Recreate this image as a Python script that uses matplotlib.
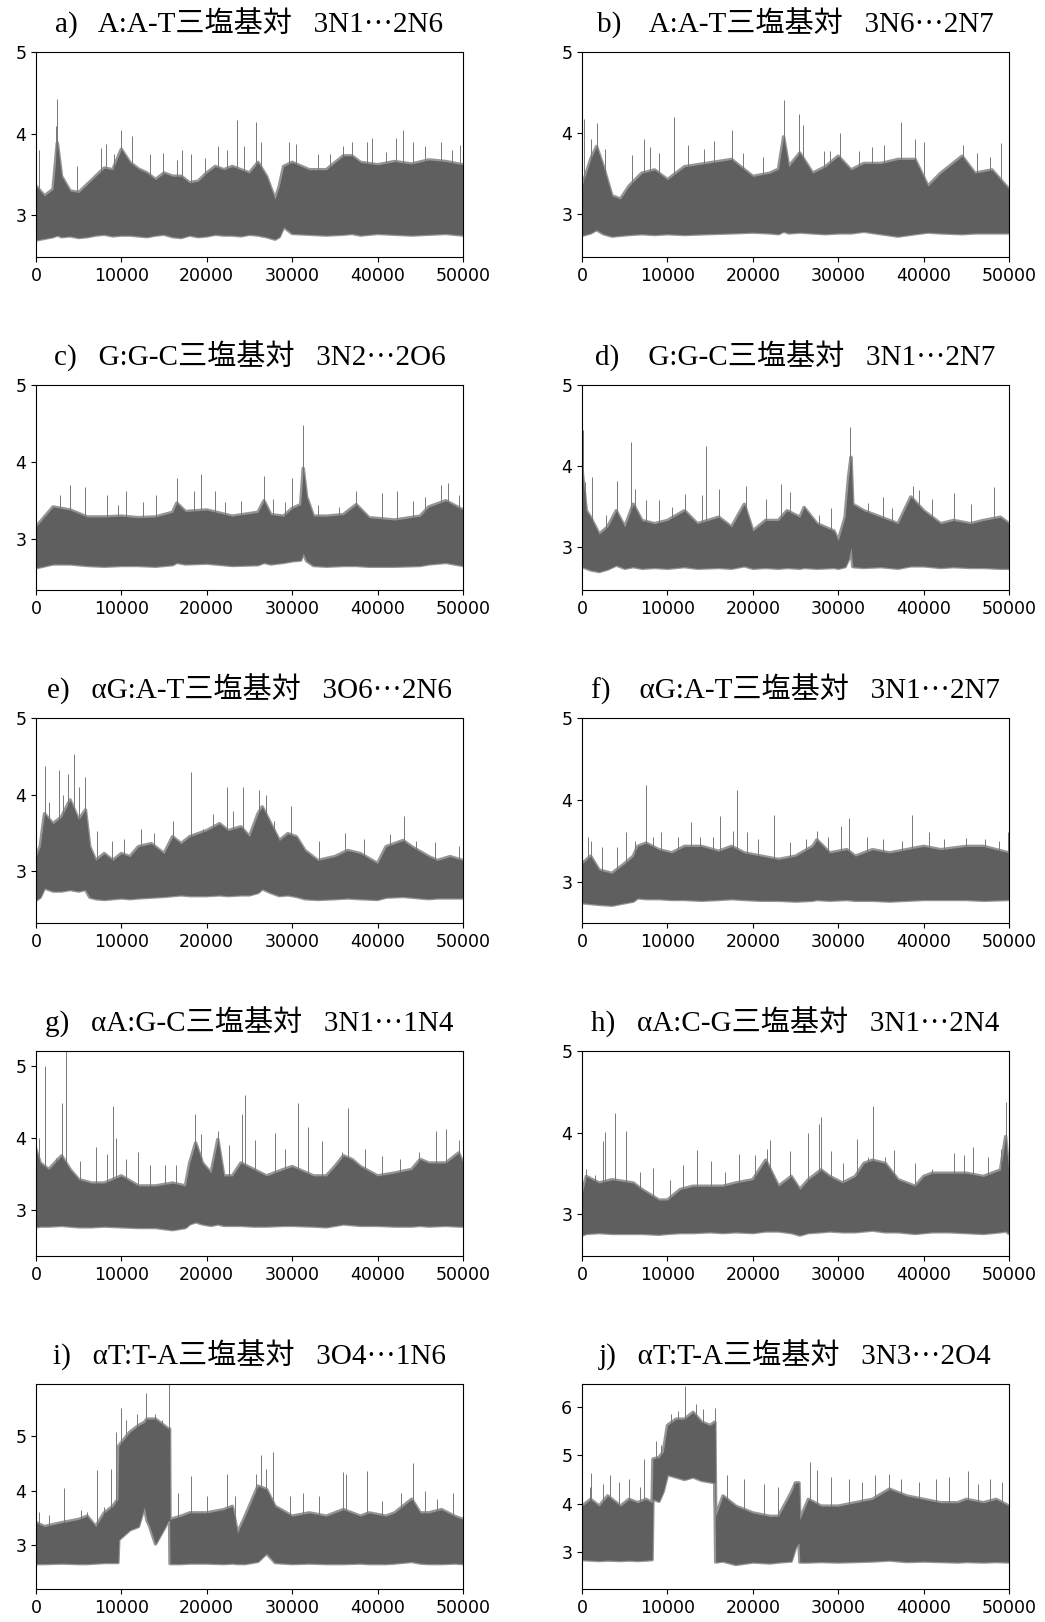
import numpy as np
import matplotlib

matplotlib.use("Agg")
import matplotlib.pyplot as plt

# --- datos: envolvente (bajo/alto) y picos sueltos por panel ---

a_x = [0, 1000, 2000, 2500, 3000, 4000, 5000, 6000, 7000, 8000, 9000, 10000, 11000, 12000, 13000,
       14000, 15000, 16000, 17000, 18000, 19000, 20000, 21000, 22000, 23000, 24000, 25000, 26000,
       27000, 28000, 28500, 29000, 30000, 32000, 34000, 36000, 37000, 38000, 40000, 42000, 44000,
       46000, 48000, 50000]
a_hi = [3.36, 3.24, 3.32, 3.89, 3.48, 3.30, 3.28, 3.38, 3.48, 3.58, 3.56, 3.81, 3.65, 3.57, 3.52,
        3.44, 3.52, 3.48, 3.48, 3.40, 3.42, 3.52, 3.60, 3.56, 3.60, 3.56, 3.52, 3.65, 3.48, 3.20,
        3.36, 3.60, 3.65, 3.56, 3.56, 3.73, 3.73, 3.65, 3.62, 3.66, 3.63, 3.68, 3.66, 3.62]
a_lo = [2.70, 2.72, 2.74, 2.76, 2.74, 2.75, 2.73, 2.74, 2.76, 2.77, 2.75, 2.76, 2.76, 2.75, 2.74,
        2.76, 2.77, 2.74, 2.73, 2.76, 2.74, 2.75, 2.77, 2.76, 2.76, 2.75, 2.77, 2.76, 2.74, 2.71,
        2.74, 2.86, 2.78, 2.77, 2.76, 2.77, 2.78, 2.76, 2.78, 2.77, 2.76, 2.77, 2.78, 2.76]
a_sx = [300, 2300, 2500, 4800, 7600, 8200, 9100, 10000, 11300, 13300, 14900, 16500, 17100, 18100,
        19800, 21300, 22400, 23600, 24400, 25800, 26300, 29600, 30500, 33000, 34400, 35900, 37000,
        38800, 39400, 41000, 42200, 43000, 44100, 45500, 47400, 48700, 49700]
a_sy = [3.80, 4.10, 4.43, 3.60, 3.82, 3.88, 3.75, 4.05, 3.97, 3.75, 3.77, 3.68, 3.80, 3.75, 3.70,
        3.85, 3.80, 4.17, 3.85, 4.14, 3.90, 3.90, 3.88, 3.75, 3.75, 3.85, 3.90, 3.90, 3.95, 3.78,
        3.95, 4.05, 3.90, 3.85, 3.90, 3.80, 3.86]

b_x = [0, 1000, 1700, 2500, 3500, 4500, 5500, 7000, 8500, 10000, 12000, 14500, 17500, 20000, 22000,
       23000, 23600, 24200, 25500, 27000, 28500, 30000, 31500, 33000, 35000, 37000, 39000, 40500,
       42000, 44500, 46000, 48000, 50000]
b_hi = [3.34, 3.67, 3.83, 3.58, 3.22, 3.18, 3.34, 3.50, 3.54, 3.42, 3.58, 3.62, 3.67, 3.46, 3.50,
        3.55, 3.95, 3.58, 3.75, 3.50, 3.58, 3.71, 3.54, 3.62, 3.62, 3.67, 3.67, 3.34, 3.50, 3.71,
        3.50, 3.54, 3.30]
b_lo = [2.73, 2.76, 2.80, 2.75, 2.72, 2.73, 2.74, 2.75, 2.74, 2.75, 2.74, 2.75, 2.76, 2.77, 2.76,
        2.75, 2.78, 2.76, 2.77, 2.76, 2.75, 2.76, 2.76, 2.78, 2.75, 2.72, 2.75, 2.77, 2.76, 2.75,
        2.76, 2.76, 2.76]
b_sx = [0, 200, 1000, 1700, 2700, 5900, 7200, 7900, 9000, 10800, 12400, 14300, 15400, 17600, 18900,
        21200, 23600, 25400, 25900, 28300, 29000, 30200, 32400, 34000, 35300, 37400, 39000, 40000,
        44600, 46200, 47800, 49000]
b_sy = [3.87, 4.17, 3.92, 4.12, 3.80, 3.72, 3.92, 3.82, 3.75, 4.20, 3.85, 3.80, 3.90, 4.03, 3.75,
        3.70, 4.41, 4.23, 4.10, 3.78, 3.78, 4.00, 3.78, 3.82, 3.85, 4.13, 3.92, 3.88, 3.85, 3.75,
        3.70, 3.87]

c_x = [0, 2000, 4000, 6000, 8000, 10000, 12000, 14000, 16000, 16500, 17500, 20000, 23000, 26000,
       26700, 27500, 29000, 30000, 31000, 31300, 31700, 32500, 34000, 36000, 37500, 39000, 42000,
       45000, 46000, 48000, 50000]
c_hi = [3.16, 3.42, 3.38, 3.29, 3.29, 3.30, 3.28, 3.29, 3.35, 3.47, 3.36, 3.38, 3.30, 3.35, 3.50,
        3.32, 3.30, 3.40, 3.45, 3.92, 3.55, 3.30, 3.30, 3.32, 3.45, 3.28, 3.25, 3.30, 3.42, 3.50, 3.38]
c_lo = [2.63, 2.68, 2.68, 2.66, 2.65, 2.66, 2.66, 2.65, 2.67, 2.70, 2.68, 2.69, 2.66, 2.67, 2.70,
        2.68, 2.70, 2.72, 2.73, 2.82, 2.72, 2.66, 2.65, 2.66, 2.66, 2.65, 2.65, 2.66, 2.68, 2.70, 2.66]
c_sx = [1000, 2800, 4000, 5800, 8300, 9600, 10500, 12500, 14000, 16500, 18500, 19300, 21000, 22100,
        24000, 26700, 27800, 29200, 30000, 31300, 33000, 35500, 37500, 40500, 42300, 44100, 45500,
        47400, 48300, 49500]
c_sy = [3.30, 3.58, 3.71, 3.68, 3.58, 3.45, 3.62, 3.48, 3.58, 3.80, 3.62, 3.85, 3.63, 3.48, 3.50,
        3.82, 3.52, 3.48, 3.80, 4.48, 3.45, 3.42, 3.62, 3.60, 3.62, 3.50, 3.55, 3.70, 3.73, 3.58]

d_x = [0, 500, 1000, 2000, 3000, 4000, 5000, 6000, 7000, 8500, 10000, 12000, 13500, 16000, 17500,
       19000, 20000, 21500, 23000, 24000, 25500, 26000, 27500, 29500, 30000, 30800, 31200, 31500,
       31700, 33000, 35000, 37000, 38500, 40000, 42000, 43500, 45500, 47000, 49000, 50000]
d_hi = [3.95, 3.45, 3.37, 3.16, 3.25, 3.45, 3.25, 3.53, 3.33, 3.29, 3.33, 3.45, 3.29, 3.37, 3.25,
        3.53, 3.20, 3.33, 3.33, 3.45, 3.37, 3.49, 3.29, 3.20, 3.08, 3.37, 3.86, 4.11, 3.53, 3.45,
        3.37, 3.29, 3.62, 3.45, 3.29, 3.33, 3.29, 3.33, 3.37, 3.29]
d_lo = [2.76, 2.74, 2.72, 2.70, 2.73, 2.78, 2.74, 2.76, 2.74, 2.75, 2.74, 2.76, 2.74, 2.75, 2.74,
        2.77, 2.74, 2.75, 2.74, 2.75, 2.74, 2.75, 2.74, 2.75, 2.74, 2.76, 2.85, 3.00, 2.76, 2.75,
        2.76, 2.74, 2.77, 2.77, 2.75, 2.76, 2.75, 2.75, 2.74, 2.74]
d_sx = [100, 300, 1200, 2800, 4100, 5700, 6200, 7500, 9000, 10500, 12000, 14000, 14500, 16000,
        19200, 21500, 23300, 24300, 26000, 27800, 29200, 31400, 33500, 35200, 36300, 38700, 39500,
        41000, 43500, 45500, 48200]
d_sy = [4.45, 3.80, 3.86, 3.40, 3.82, 4.30, 3.72, 3.58, 3.58, 3.50, 3.66, 3.65, 4.25, 3.72, 3.75,
        3.60, 3.78, 3.68, 3.50, 3.40, 3.48, 4.48, 3.55, 3.62, 3.48, 3.75, 3.70, 3.60, 3.67, 3.53, 3.74]

e_x = [0, 500, 1000, 2000, 3000, 4000, 5000, 5800, 6300, 7000, 8000, 9000, 10000, 11000, 12000,
       13500, 15000, 16000, 17000, 18000, 19000, 20000, 21500, 22500, 24000, 25000, 26000, 26500,
       27500, 28500, 29500, 30500, 31500, 33000, 35000, 36500, 38000, 40000, 41000, 43000, 44000,
       46000, 47000, 48500, 50000]
e_hi = [3.19, 3.32, 3.75, 3.62, 3.71, 3.93, 3.67, 3.80, 3.32, 3.14, 3.23, 3.14, 3.23, 3.19, 3.32,
        3.36, 3.23, 3.45, 3.36, 3.45, 3.49, 3.53, 3.62, 3.53, 3.58, 3.45, 3.75, 3.84, 3.62, 3.40,
        3.49, 3.45, 3.27, 3.14, 3.19, 3.27, 3.23, 3.10, 3.32, 3.40, 3.32, 3.19, 3.14, 3.19, 3.14]
e_lo = [2.62, 2.66, 2.78, 2.74, 2.74, 2.76, 2.74, 2.76, 2.66, 2.64, 2.63, 2.64, 2.65, 2.64, 2.65,
        2.66, 2.67, 2.68, 2.69, 2.68, 2.68, 2.68, 2.69, 2.68, 2.69, 2.69, 2.72, 2.77, 2.72, 2.68,
        2.69, 2.67, 2.64, 2.63, 2.64, 2.65, 2.64, 2.63, 2.66, 2.67, 2.66, 2.64, 2.65, 2.65, 2.65]
e_sx = [1100, 1500, 2700, 3200, 3700, 4500, 5000, 5800, 7200, 8900, 10300, 12300, 13800, 16100,
        18100, 19600, 20700, 22400, 23100, 24200, 26100, 26900, 27900, 29900, 33100, 36200, 38400,
        41500, 43100, 44500, 46700, 49500]
e_sy = [4.38, 3.90, 4.32, 4.00, 4.27, 4.53, 4.10, 4.23, 3.52, 3.40, 3.42, 3.55, 3.50, 3.65, 4.30,
        3.55, 3.75, 4.10, 3.78, 4.10, 4.06, 4.00, 3.65, 3.85, 3.40, 3.50, 3.42, 3.48, 3.72, 3.40,
        3.38, 3.33]

f_x = [0, 1000, 2000, 3500, 5000, 6000, 6500, 7500, 9000, 10500, 12000, 14000, 16000, 17500, 19000,
       21000, 23000, 25000, 27000, 27500, 29000, 31000, 32000, 34000, 36000, 38000, 40000, 42000,
       45000, 47000, 50000]
f_hi = [3.22, 3.31, 3.14, 3.10, 3.22, 3.31, 3.43, 3.47, 3.39, 3.35, 3.43, 3.43, 3.37, 3.43, 3.35,
        3.31, 3.27, 3.31, 3.43, 3.51, 3.35, 3.39, 3.31, 3.39, 3.35, 3.39, 3.43, 3.39, 3.43, 3.43, 3.35]
f_lo = [2.74, 2.73, 2.72, 2.71, 2.74, 2.76, 2.80, 2.79, 2.79, 2.78, 2.78, 2.77, 2.78, 2.79, 2.78,
        2.77, 2.77, 2.76, 2.77, 2.78, 2.77, 2.78, 2.77, 2.77, 2.76, 2.77, 2.78, 2.78, 2.78, 2.77, 2.78]
f_sx = [700, 1100, 2300, 4100, 5200, 6200, 7500, 8300, 9300, 11200, 12700, 13800, 15300, 16100,
        17700, 18100, 19300, 20600, 22500, 24300, 26200, 27500, 28800, 30300, 31200, 33400, 35200,
        37500, 38600, 40600, 42400, 45000, 47200, 48800, 49900]
f_sy = [3.55, 3.50, 3.42, 3.42, 3.61, 3.50, 4.18, 3.55, 3.60, 3.55, 3.73, 3.55, 3.55, 3.80, 3.62,
        4.12, 3.60, 3.52, 3.82, 3.48, 3.52, 3.62, 3.55, 3.68, 3.78, 3.55, 3.52, 3.50, 3.82, 3.60,
        3.52, 3.53, 3.52, 3.50, 3.60]

g_x = [0, 500, 1500, 3000, 4000, 5000, 6500, 8000, 10000, 12000, 14000, 16000, 17500, 18000, 18700,
       19500, 20500, 21300, 22000, 23000, 24000, 25500, 27000, 29000, 30000, 32500, 34000, 35000,
       36000, 37000, 38000, 40000, 42000, 44000, 45000, 46000, 48000, 49500, 50000]
g_hi = [3.84, 3.65, 3.56, 3.75, 3.56, 3.42, 3.37, 3.37, 3.47, 3.33, 3.33, 3.37, 3.33, 3.65, 3.93,
        3.65, 3.51, 3.98, 3.47, 3.47, 3.65, 3.56, 3.47, 3.56, 3.60, 3.47, 3.47, 3.60, 3.75, 3.70,
        3.60, 3.47, 3.51, 3.56, 3.70, 3.65, 3.65, 3.79, 3.65]
g_lo = [2.76, 2.77, 2.77, 2.78, 2.77, 2.76, 2.76, 2.77, 2.76, 2.75, 2.75, 2.72, 2.75, 2.80, 2.83,
        2.80, 2.78, 2.80, 2.78, 2.78, 2.78, 2.77, 2.77, 2.78, 2.78, 2.77, 2.76, 2.78, 2.80, 2.79,
        2.78, 2.78, 2.77, 2.77, 2.78, 2.77, 2.78, 2.77, 2.77]
g_sx = [300, 1100, 2300, 3000, 3540, 5200, 7000, 8300, 9000, 9400, 10500, 11900, 13300, 15100,
        16400, 18600, 19300, 21300, 22600, 24100, 24500, 25600, 28000, 29200, 30700, 31800, 33500,
        35800, 36500, 38500, 40500, 42600, 44900, 46800, 48000, 49500]
g_sy = [4.00, 5.00, 3.72, 4.48, 5.30, 3.68, 3.88, 3.78, 4.45, 4.00, 3.70, 3.80, 3.62, 3.62, 3.62,
        4.33, 4.05, 4.10, 3.90, 4.33, 4.60, 3.97, 4.07, 3.85, 4.48, 4.15, 3.95, 3.80, 4.42, 3.85,
        3.75, 3.70, 3.80, 4.10, 4.12, 3.97]

h_x = [0, 500, 2000, 3500, 6000, 7000, 9000, 10000, 11500, 13000, 15000, 16500, 18000, 20000, 21500,
       23000, 24500, 25500, 26500, 28000, 29000, 30500, 32000, 33000, 34000, 35500, 37000, 39000,
       40000, 41000, 43000, 45000, 47000, 49000, 49600, 50000]
h_hi = [3.25, 3.46, 3.38, 3.42, 3.38, 3.30, 3.17, 3.17, 3.30, 3.34, 3.34, 3.34, 3.38, 3.42, 3.66,
        3.34, 3.46, 3.30, 3.42, 3.54, 3.46, 3.38, 3.46, 3.62, 3.66, 3.62, 3.42, 3.34, 3.46, 3.50,
        3.50, 3.50, 3.46, 3.54, 3.95, 3.46]
h_lo = [2.74, 2.76, 2.77, 2.76, 2.76, 2.76, 2.75, 2.76, 2.77, 2.77, 2.78, 2.77, 2.78, 2.77, 2.79,
        2.79, 2.77, 2.74, 2.77, 2.78, 2.79, 2.78, 2.78, 2.79, 2.80, 2.78, 2.78, 2.76, 2.77, 2.78,
        2.78, 2.77, 2.76, 2.78, 2.79, 2.76]
h_sx = [500, 1500, 2500, 2700, 3900, 5100, 6800, 8300, 10300, 11800, 13500, 15100, 16700, 18400,
        20300, 21700, 22000, 24400, 26400, 27700, 28000, 29200, 30500, 32200, 33500, 34100, 35500,
        36500, 39000, 41000, 43500, 44700, 45800, 47500, 49000, 49600]
h_sy = [3.55, 3.48, 3.90, 4.01, 4.24, 4.02, 3.52, 3.56, 3.42, 3.60, 3.78, 3.65, 3.52, 3.74, 3.72,
        3.80, 3.91, 3.77, 4.00, 4.10, 4.19, 3.77, 3.62, 3.92, 3.70, 4.33, 3.70, 3.78, 3.62, 3.55,
        3.75, 3.72, 3.82, 3.70, 3.80, 4.38]

i_x = [0, 1000, 3000, 5000, 6000, 7000, 8000, 9000, 9600, 9700, 11000, 12000, 12700, 13000, 13300,
       14000, 15000, 15500, 15650, 15700, 17000, 18000, 20000, 22000, 23000, 23600, 24500, 26000,
       27000, 28000, 30000, 32000, 34000, 36000, 38000, 39000, 41000, 42000, 44000, 45000, 46000,
       47500, 49000, 50000]
i_hi = [3.41, 3.34, 3.41, 3.47, 3.53, 3.34, 3.59, 3.71, 3.84, 4.82, 5.07, 5.19, 5.25, 5.31, 5.31,
        5.31, 5.19, 5.13, 5.13, 3.47, 3.53, 3.59, 3.59, 3.65, 3.71, 3.22, 3.53, 4.08, 4.02, 3.71,
        3.53, 3.59, 3.53, 3.65, 3.53, 3.59, 3.53, 3.59, 3.84, 3.59, 3.59, 3.65, 3.53, 3.47]
i_lo = [2.66, 2.66, 2.67, 2.66, 2.66, 2.67, 2.68, 2.68, 2.68, 3.10, 3.28, 3.34, 3.70, 3.45, 3.35,
        3.02, 3.30, 3.45, 3.45, 2.66, 2.66, 2.67, 2.67, 2.66, 2.67, 2.66, 2.66, 2.70, 2.85, 2.68,
        2.66, 2.67, 2.66, 2.66, 2.67, 2.66, 2.66, 2.67, 2.70, 2.67, 2.66, 2.66, 2.67, 2.66]
i_sx = [400, 1500, 3300, 5300, 6000, 7200, 8000, 8800, 9400, 10000, 10600, 11800, 12900, 13900,
        14800, 15600, 16600, 18200, 20000, 22400, 23300, 25800, 26300, 26900, 27800, 29700, 31300,
        33200, 35900, 36300, 38800, 40500, 42700, 44100, 45500, 47000, 48800]
i_sy = [3.60, 3.55, 4.05, 3.65, 3.60, 4.38, 3.70, 4.40, 5.08, 5.51, 5.30, 5.40, 5.79, 5.40, 5.30,
        5.95, 3.95, 4.27, 3.90, 4.30, 3.90, 4.30, 4.65, 4.40, 4.70, 3.90, 3.95, 3.90, 4.34, 4.30,
        4.35, 3.80, 3.95, 4.50, 4.00, 3.85, 3.95]

j_x = [0, 1000, 2000, 3000, 4500, 5500, 6500, 7500, 8200, 8300, 9000, 9500, 10000, 11000, 12000,
       13000, 14000, 15000, 15550, 15650, 16500, 18000, 20000, 22000, 23000, 24500, 25000, 25400,
       25500, 26500, 28000, 30000, 32000, 34000, 36000, 38000, 40000, 42000, 44000, 45000, 47000,
       48500, 50000]
j_hi = [3.95, 4.09, 3.95, 4.16, 3.95, 4.09, 4.02, 4.09, 4.02, 4.92, 4.95, 5.06, 5.61, 5.74, 5.74,
        5.88, 5.68, 5.61, 5.68, 3.74, 4.16, 3.95, 3.81, 3.74, 3.74, 4.23, 4.43, 4.43, 3.67, 4.09,
        3.95, 3.95, 4.02, 4.09, 4.30, 4.16, 4.09, 4.02, 4.02, 4.09, 4.02, 4.09, 3.95]
j_lo = [2.85, 2.84, 2.83, 2.84, 2.83, 2.84, 2.83, 2.84, 2.85, 4.10, 4.05, 4.25, 4.60, 4.55, 4.50,
        4.55, 4.48, 4.45, 4.43, 2.80, 2.82, 2.75, 2.80, 2.78, 2.80, 2.82, 3.10, 3.20, 2.80, 2.80,
        2.81, 2.80, 2.81, 2.82, 2.84, 2.81, 2.82, 2.81, 2.80, 2.81, 2.80, 2.81, 2.80]
j_sx = [900, 1000, 2500, 3300, 4300, 5500, 6800, 7200, 8700, 9200, 10400, 11200, 12000, 12100,
        13300, 14200, 15600, 17000, 19000, 21300, 23000, 24800, 26700, 27500, 29200, 31200, 32800,
        34300, 36000, 37300, 39500, 41400, 43000, 45200, 46400, 47800, 49200]
j_sy = [4.35, 4.64, 4.40, 4.60, 4.45, 4.50, 4.35, 4.92, 5.30, 5.20, 5.85, 5.90, 6.00, 6.43, 6.05,
        5.95, 5.97, 4.60, 4.50, 4.40, 4.35, 4.45, 4.86, 4.70, 4.55, 4.50, 4.45, 4.60, 4.62, 4.50,
        4.45, 4.50, 4.55, 4.68, 4.40, 4.50, 4.45]

titles = [
    "a)   A:A-T三塩基対   3N1···2N6",
    "b)    A:A-T三塩基対   3N6···2N7",
    "c)   G:G-C三塩基対   3N2···2O6",
    "d)    G:G-C三塩基対   3N1···2N7",
    "e)   αG:A-T三塩基対   3O6···2N6",
    "f)    αG:A-T三塩基対   3N1···2N7",
    "g)   αA:G-C三塩基対   3N1···1N4",
    "h)   αA:C-G三塩基対   3N1···2N4",
    "i)   αT:T-A三塩基対   3O4···1N6",
    "j)   αT:T-A三塩基対   3N3···2O4",
]
ylims = [(2.49, 5.0), (2.46, 5.0), (2.34, 5.0), (2.47, 5.0), (2.32, 5.0),
         (2.49, 5.0), (2.35, 5.21), (2.48, 5.0), (2.19, 5.95), (2.24, 6.46)]
yticks = [[3, 4, 5]] * 9 + [[3, 4, 5, 6]]

paneles = [
    (a_x, a_lo, a_hi, a_sx, a_sy), (b_x, b_lo, b_hi, b_sx, b_sy),
    (c_x, c_lo, c_hi, c_sx, c_sy), (d_x, d_lo, d_hi, d_sx, d_sy),
    (e_x, e_lo, e_hi, e_sx, e_sy), (f_x, f_lo, f_hi, f_sx, f_sy),
    (g_x, g_lo, g_hi, g_sx, g_sy), (h_x, h_lo, h_hi, h_sx, h_sy),
    (i_x, i_lo, i_hi, i_sx, i_sy), (j_x, j_lo, j_hi, j_sx, j_sy),
]

GRIS = "#5f5f5f"
GRIS_BORDE = "#959595"
FUENTE_TITULO = ["Liberation Serif", "Noto Sans CJK JP", "DejaVu Sans"]

fig, axes = plt.subplots(5, 2, figsize=(10.45, 16.22), dpi=100)
fig.subplots_adjust(left=0.0344, right=0.9656, top=0.9679, bottom=0.0202,
                    wspace=0.279, hspace=0.624)

for ax, (x, lo, hi, sx, sy), titulo, yl, yt in zip(axes.flat, paneles, titles, ylims, yticks):
    # borde claro detrás de la banda para imitar el "flequillo" de la traza densa
    ax.fill_between(x, lo, hi, facecolor="none", edgecolor=GRIS_BORDE, linewidth=2.5, zorder=1)
    ax.vlines(sx, np.interp(sx, x, hi) - 0.05, sy, color="#787878", linewidth=0.7, zorder=1.5)
    ax.fill_between(x, lo, hi, color=GRIS, linewidth=0, zorder=2)
    ax.set_xlim(0, 50000)
    ax.set_ylim(*yl)
    ax.set_xticks([0, 10000, 20000, 30000, 40000, 50000])
    ax.set_yticks(yt)
    ax.tick_params(labelsize=12.5)
    ax.set_title(titulo, fontsize=21, pad=14, family=FUENTE_TITULO)

fig.savefig("out.png", dpi=100)
plt.close(fig)
